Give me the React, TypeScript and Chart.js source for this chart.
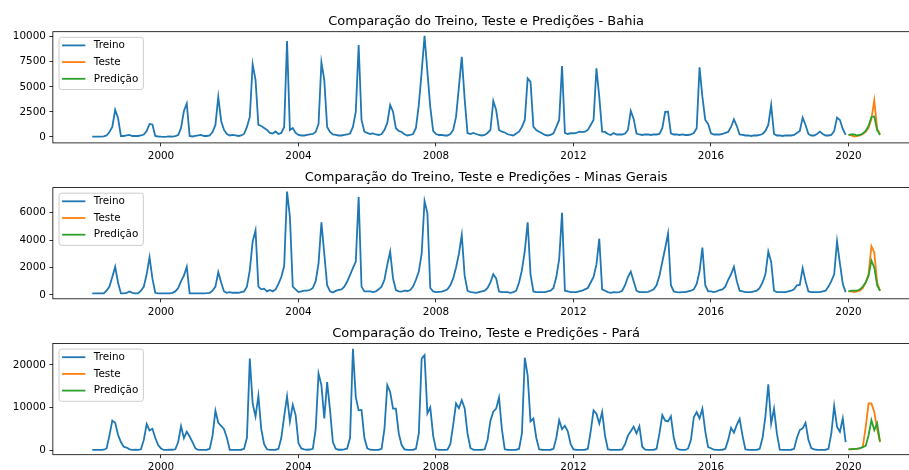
import React, { useEffect, useRef } from 'react';
import { Chart, registerables } from 'chart.js';

Chart.register(...registerables);

// ---------------- data ----------------
const TRAIN_START = 1998; // monthly, Jan 1998 .. Dec 2019
const TEST_START = 2020; // monthly, Jan 2020 .. Dec 2020
const xTickYears = [2000, 2004, 2008, 2012, 2016, 2020];
const legendLabels = ['Treino', 'Teste', 'Predição'];

const bahiaTitle = 'Comparação do Treino, Teste e Predições - Bahia';
const bahiaTreino = [
  30, 30, 30, 40, 60, 150, 500, 1000, 2700, 1900, 100, 100, // 1998
  150, 200, 100, 100, 100, 150, 250, 600, 1300, 1250, 100, 50, // 1999
  30, 20, 30, 50, 30, 80, 200, 900, 2600, 3350, 100, 50, // 2000
  100, 150, 200, 100, 100, 150, 500, 1200, 4000, 1600, 700, 300, // 2001
  150, 200, 150, 100, 150, 300, 1000, 2000, 7250, 5700, 1200, 1100, // 2002
  900, 700, 400, 350, 550, 300, 400, 1000, 9570, 700, 900, 400, // 2003
  200, 150, 150, 200, 250, 300, 500, 1300, 7450, 5700, 1000, 500, // 2004
  250, 200, 150, 150, 200, 250, 350, 1000, 2500, 9170, 1700, 530, // 2005
  400, 300, 350, 250, 200, 300, 700, 1400, 3190, 2520, 870, 600, // 2006
  500, 270, 150, 200, 300, 900, 3200, 6500, 10100, 6500, 3000, 600, // 2007
  300, 200, 200, 150, 150, 300, 700, 2000, 5000, 8000, 3800, 400, // 2008
  300, 400, 300, 200, 150, 200, 400, 700, 3590, 2690, 700, 530, // 2009
  450, 270, 200, 150, 350, 530, 1000, 1700, 5850, 5500, 1030, 700, // 2010
  530, 370, 200, 150, 200, 370, 1000, 1700, 7080, 400, 300, 370, // 2011
  370, 400, 530, 480, 530, 700, 1200, 1700, 6850, 4000, 530, 500, // 2012
  300, 200, 400, 250, 250, 250, 350, 700, 2600, 1800, 350, 250, // 2013
  200, 250, 250, 200, 250, 250, 300, 870, 2500, 2520, 370, 250, // 2014
  250, 200, 250, 200, 200, 250, 400, 870, 6950, 4000, 1700, 1300, // 2015
  370, 250, 250, 250, 300, 400, 500, 1000, 1760, 1100, 250, 200, // 2016
  150, 150, 100, 150, 150, 200, 300, 600, 1200, 3190, 300, 150, // 2017
  150, 100, 150, 150, 150, 200, 400, 600, 1930, 1200, 300, 150, // 2018
  150, 300, 530, 300, 150, 150, 200, 600, 1930, 1700, 800, 200, // 2019
];
const bahiaTeste = [200, 150, 50, 100, 150, 300, 500, 900, 1800, 3650, 800, 300];
const bahiaPredicao = [200, 250, 250, 150, 200, 350, 600, 1100, 2000, 2050, 700, 200];
const bahiaYTicks = [0, 2500, 5000, 7500, 10000];

const minasTitle = 'Comparação do Treino, Teste e Predições - Minas Gerais';
const minasTreino = [
  100, 100, 100, 100, 100, 300, 600, 1300, 2050, 900, 100, 100, // 1998
  150, 250, 150, 100, 100, 300, 600, 1500, 2750, 1200, 150, 100, // 1999
  100, 100, 100, 100, 150, 250, 500, 1000, 1400, 2050, 100, 100, // 2000
  100, 100, 100, 100, 120, 150, 300, 600, 1650, 900, 250, 150, // 2001
  200, 150, 150, 150, 200, 250, 600, 1800, 3900, 4700, 600, 400, // 2002
  450, 250, 350, 250, 400, 800, 1300, 2100, 7540, 5700, 600, 400, // 2003
  200, 250, 300, 300, 350, 500, 1000, 2300, 5300, 3000, 700, 250, // 2004
  170, 290, 365, 400, 600, 970, 1460, 1950, 2430, 7150, 600, 250, // 2005
  250, 250, 200, 250, 400, 600, 1100, 2200, 3150, 1200, 350, 250, // 2006
  240, 300, 280, 350, 600, 1100, 1700, 3000, 6850, 5950, 500, 250, // 2007
  200, 220, 240, 300, 400, 700, 1200, 2000, 3000, 4380, 1400, 300, // 2008
  200, 180, 150, 200, 250, 300, 500, 900, 1500, 1200, 250, 200, // 2009
  200, 200, 150, 200, 300, 900, 1800, 3200, 5300, 1500, 250, 200, // 2010
  200, 200, 200, 250, 300, 500, 1300, 2600, 6000, 300, 250, 200, // 2011
  200, 200, 250, 300, 400, 500, 900, 1300, 2200, 4100, 400, 300, // 2012
  200, 150, 200, 180, 200, 300, 700, 1300, 1700, 1000, 300, 200, // 2013
  200, 200, 220, 300, 400, 700, 1400, 2400, 3400, 4480, 700, 250, // 2014
  200, 180, 200, 200, 250, 300, 400, 800, 1700, 3450, 700, 250, // 2015
  250, 200, 250, 350, 400, 600, 1100, 1500, 2050, 1000, 300, 250, // 2016
  200, 200, 200, 250, 300, 500, 900, 1500, 3160, 2400, 300, 200, // 2017
  200, 200, 200, 250, 300, 400, 700, 730, 1950, 1000, 250, 200, // 2018
  200, 200, 200, 250, 300, 600, 1000, 1500, 3900, 2300, 800, 200, // 2019
];
const minasTeste = [250, 250, 200, 250, 300, 500, 900, 1500, 3550, 3100, 900, 300];
const minasPredicao = [250, 300, 300, 300, 400, 600, 900, 1400, 2500, 2000, 700, 300];
const minasYTicks = [0, 2000, 4000, 6000];

const paraTitle = 'Comparação do Treino, Teste e Predições - Pará';
const paraTreino = [
  150, 150, 150, 150, 200, 500, 3500, 7000, 6500, 3700, 2000, 900, // 1998
  700, 300, 150, 200, 150, 300, 2500, 6200, 4700, 5100, 3000, 1300, // 1999
  500, 150, 150, 200, 200, 300, 2000, 5700, 2900, 4400, 3300, 2000, // 2000
  540, 150, 150, 150, 200, 400, 3500, 9300, 6500, 5800, 5000, 3000, // 2001
  150, 150, 150, 150, 200, 400, 3000, 21500, 11000, 8000, 12800, 5000, // 2002
  1500, 300, 150, 150, 200, 400, 3000, 8000, 12700, 6800, 10700, 8300, // 2003
  1700, 500, 300, 200, 250, 400, 5000, 18000, 15300, 7500, 16000, 9500, // 2004
  2000, 400, 200, 200, 300, 500, 3000, 23800, 12500, 9400, 9500, 3000, // 2005
  540, 200, 150, 150, 200, 400, 5000, 15300, 13700, 9800, 9800, 4000, // 2006
  1300, 300, 200, 150, 200, 400, 4000, 21500, 22300, 8700, 10100, 3500, // 2007
  300, 200, 150, 150, 200, 1500, 6000, 11000, 9900, 11800, 9900, 4000, // 2008
  600, 200, 150, 150, 200, 300, 2500, 7000, 9100, 9800, 12400, 5000, // 2009
  300, 200, 150, 150, 200, 400, 4000, 21700, 17500, 6800, 7500, 3000, // 2010
  300, 200, 150, 150, 200, 400, 3000, 7100, 5000, 5800, 4500, 1500, // 2011
  300, 200, 150, 150, 200, 400, 4500, 9400, 8600, 6300, 9000, 3500, // 2012
  300, 200, 150, 150, 200, 300, 1500, 3500, 4500, 5600, 4000, 5700, // 2013
  900, 200, 150, 150, 200, 400, 4000, 8300, 7000, 6800, 8000, 3000, // 2014
  540, 200, 150, 150, 500, 2500, 7800, 9000, 7500, 9800, 4500, 800, // 2015
  540, 200, 150, 150, 200, 400, 2500, 5300, 4200, 6000, 7400, 3500, // 2016
  300, 200, 150, 150, 200, 400, 3000, 8000, 15500, 6300, 9800, 4000, // 2017
  200, 150, 150, 150, 200, 400, 3000, 4800, 5200, 6500, 2500, 600, // 2018
  300, 200, 150, 150, 200, 400, 4000, 10400, 5500, 4400, 7500, 2000, // 2019
];
const paraTeste = [300, 300, 350, 400, 500, 900, 5500, 11000, 11000, 9000, 5000, 2000];
const paraPredicao = [300, 350, 400, 450, 600, 800, 1100, 3600, 7100, 4800, 6400, 2100];
const paraYTicks = [0, 10000, 20000];

// ---------------- layout ----------------
const CANVAS_W = 930;
const CANVAS_H = 500;
const AX_LEFT = 52.85;
const AX_RIGHT = 919.4;
const AX_H = 111.2;
const X_AXIS_H = 20;
const X_MIN = 1996.854;
const X_MAX = 2022.0625;
const FONT = "'DejaVu Sans', sans-serif";
const TICK_SIZE = 10.4;
const TITLE_SIZE = 13;
const LINE_W = 1.8;
const COLORS = ['#1f77b4', '#ff7f0e', '#2ca02c'];

type Panel = {
  title: string;
  train: number[];
  test: number[];
  pred: number[];
  yTicks: number[];
  yMin: number;
  yMax: number;
  top: number;
};

const panels: Panel[] = [
  { title: bahiaTitle, train: bahiaTreino, test: bahiaTeste, pred: bahiaPredicao, yTicks: bahiaYTicks, yMin: -590, yMax: 10500, top: 31.7 },
  { title: minasTitle, train: minasTreino, test: minasTeste, pred: minasPredicao, yTicks: minasYTicks, yMin: -290, yMax: 7830, top: 187.6 },
  { title: paraTitle, train: paraTreino, test: paraTeste, pred: paraPredicao, yTicks: paraYTicks, yMin: -960, yMax: 25020, top: 343.5 },
];

function toPoints(values: number[], start: number) {
  return values.map((v, i) => ({ x: start + i / 12, y: v }));
}

const decorPlugin = {
  id: 'decor',
  afterDraw(chart: any, _args: any, opts: any) {
    const { ctx, chartArea: a } = chart;
    ctx.save();
    // spines
    ctx.strokeStyle = '#000';
    ctx.lineWidth = 0.8;
    ctx.strokeRect(a.left, a.top, a.right - a.left, a.bottom - a.top);
    // title
    ctx.fillStyle = '#000';
    ctx.font = `${TITLE_SIZE}px ${FONT}`;
    ctx.textAlign = 'center';
    ctx.textBaseline = 'alphabetic';
    ctx.fillText(opts.title, (a.left + a.right) / 2, a.top - 6.7);
    // legend
    const bx = a.left + 6.2;
    const by = a.top + 5.6;
    const bw = 84.3;
    const bh = 52.2;
    const r = 2.5;
    ctx.beginPath();
    ctx.moveTo(bx + r, by);
    ctx.lineTo(bx + bw - r, by);
    ctx.quadraticCurveTo(bx + bw, by, bx + bw, by + r);
    ctx.lineTo(bx + bw, by + bh - r);
    ctx.quadraticCurveTo(bx + bw, by + bh, bx + bw - r, by + bh);
    ctx.lineTo(bx + r, by + bh);
    ctx.quadraticCurveTo(bx, by + bh, bx, by + bh - r);
    ctx.lineTo(bx, by + r);
    ctx.quadraticCurveTo(bx, by, bx + r, by);
    ctx.closePath();
    ctx.fillStyle = 'rgba(255,255,255,0.8)';
    ctx.fill();
    ctx.strokeStyle = '#cccccc';
    ctx.lineWidth = 1;
    ctx.stroke();
    ctx.font = `${TICK_SIZE}px ${FONT}`;
    ctx.textAlign = 'left';
    ctx.textBaseline = 'middle';
    legendLabels.forEach((label, i) => {
      const y = a.top + 13.7 + i * 16.7;
      ctx.strokeStyle = COLORS[i];
      ctx.lineWidth = LINE_W;
      ctx.beginPath();
      ctx.moveTo(a.left + 9.2, y);
      ctx.lineTo(a.left + 32.5, y);
      ctx.stroke();
      ctx.fillStyle = '#000';
      ctx.fillText(label, a.left + 41, y);
    });
    ctx.restore();
  },
};

function PanelChart({ panel }: { panel: Panel }) {
  const ref = useRef<HTMLCanvasElement | null>(null);
  useEffect(() => {
    if (!ref.current) return;
    const ds = (label: string, values: number[], start: number, color: string, order: number) => ({
      label,
      data: toPoints(values, start),
      borderColor: color,
      backgroundColor: color,
      borderWidth: LINE_W,
      pointRadius: 0,
      tension: 0,
      fill: false,
      order,
    });
    const chart = new Chart(ref.current, {
      type: 'line',
      data: {
        datasets: [
          ds(legendLabels[0], panel.train, TRAIN_START, COLORS[0], 3),
          ds(legendLabels[1], panel.test, TEST_START, COLORS[1], 2),
          ds(legendLabels[2], panel.pred, TEST_START, COLORS[2], 1),
        ],
      },
      options: {
        responsive: false,
        animation: false,
        devicePixelRatio: 1,
        events: [],
        layout: {
          autoPadding: false,
          padding: {
            left: 0,
            right: CANVAS_W - AX_RIGHT,
            top: panel.top,
            bottom: CANVAS_H - panel.top - AX_H - X_AXIS_H,
          },
        },
        plugins: {
          legend: { display: false },
          title: { display: false },
          tooltip: { enabled: false },
          decor: { title: panel.title },
        } as any,
        scales: {
          x: {
            type: 'linear',
            min: X_MIN,
            max: X_MAX,
            bounds: 'data',
            afterBuildTicks: (s: any) => {
              s.ticks = xTickYears.map((v) => ({ value: v }));
            },
            afterFit: (s: any) => {
              s.height = X_AXIS_H;
            },
            ticks: {
              autoSkip: false,
              maxRotation: 0,
              padding: 3.3,
              color: '#000',
              font: { family: FONT, size: TICK_SIZE },
              callback: (v: any) => String(v),
            },
            grid: {
              display: true,
              drawOnChartArea: false,
              drawTicks: true,
              tickLength: 3.5,
              tickWidth: 0.8,
              tickColor: '#000',
            },
            border: { display: false },
          },
          y: {
            type: 'linear',
            min: panel.yMin,
            max: panel.yMax,
            bounds: 'data',
            afterBuildTicks: (s: any) => {
              s.ticks = panel.yTicks.map((v) => ({ value: v }));
            },
            afterFit: (s: any) => {
              s.width = AX_LEFT;
            },
            ticks: {
              autoSkip: false,
              padding: 3.5,
              color: '#000',
              font: { family: FONT, size: TICK_SIZE },
              callback: (v: any) => String(v),
            },
            grid: {
              display: true,
              drawOnChartArea: false,
              drawTicks: true,
              tickLength: 3.5,
              tickWidth: 0.8,
              tickColor: '#000',
            },
            border: { display: false },
          },
        },
      } as any,
      plugins: [decorPlugin as any],
    });
    return () => chart.destroy();
  }, [panel]);
  return (
    <canvas
      ref={ref}
      width={CANVAS_W}
      height={CANVAS_H}
      style={{ position: 'absolute', left: 0, top: 0, width: CANVAS_W, height: CANVAS_H }}
    />
  );
}

export default function App() {
  return (
    <div
      style={{
        position: 'absolute',
        left: 0,
        top: 0,
        width: 909,
        height: 470,
        overflow: 'hidden',
        background: '#ffffff',
      }}
    >
      {panels.map((p, i) => (
        <PanelChart key={i} panel={p} />
      ))}
    </div>
  );
}
